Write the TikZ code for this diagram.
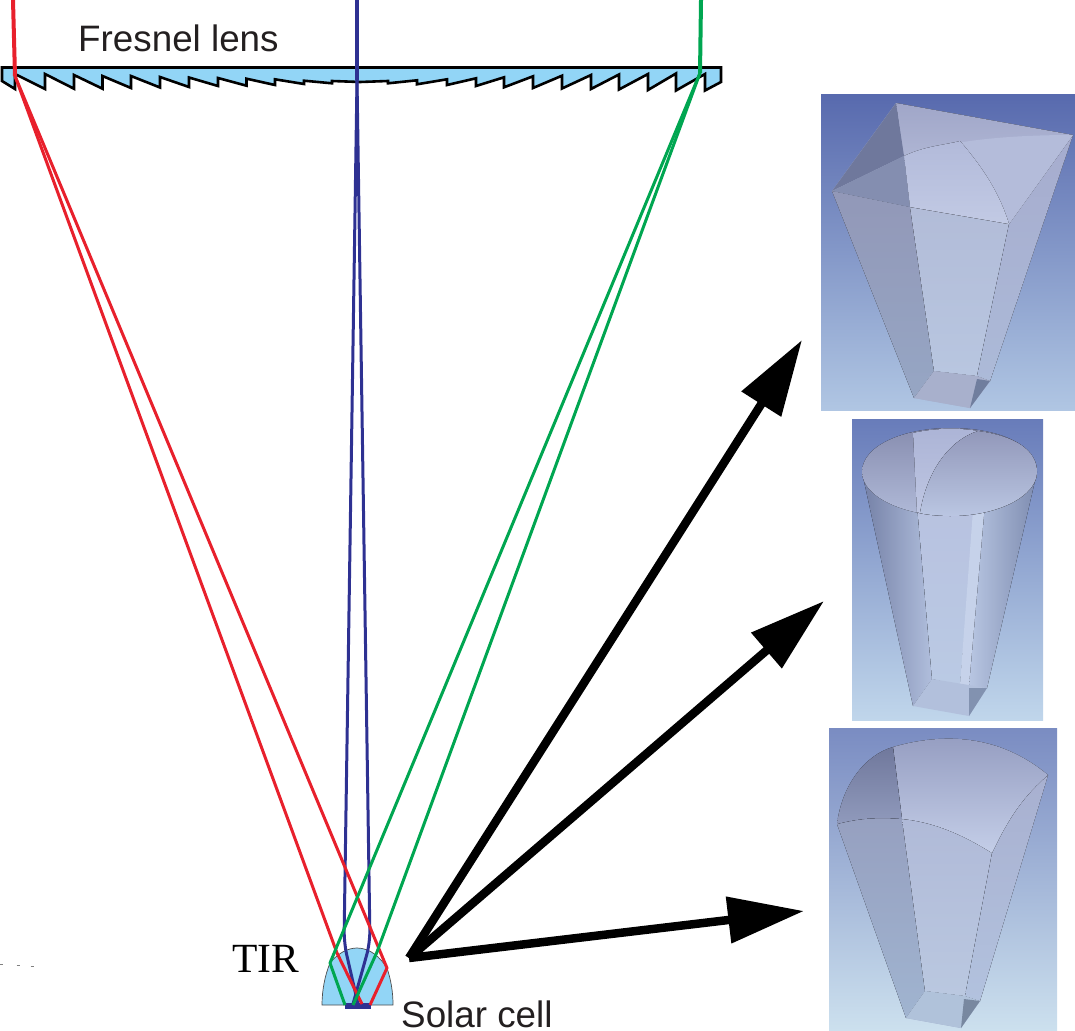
\documentclass[tikz,border=0pt]{standalone}
\usepackage{fontspec}
\setmainfont{Liberation Sans}
\newfontfamily\tirfont{Liberation Serif}
\usetikzlibrary{arrows.meta}
\definecolor{lensblue}{HTML}{92D5F6}
\definecolor{rayred}{HTML}{E8202C}
\definecolor{rayblue}{HTML}{2E3192}
\definecolor{raygreen}{HTML}{00A651}
\definecolor{inktext}{HTML}{231F20}
\tikzset{
  lbl/.style={anchor=base west,inner sep=0pt,text=inktext,font=\fontsize{36.8}{40}\selectfont},
  ray/.style={line width=3pt,line join=round},
  bigarrow/.style={line width=8.5pt,-{Triangle[length=76pt,width=45pt]}},
  panel/.style={anchor=north west,inner sep=0pt,outer sep=0pt},
}
\begin{document}
\begin{tikzpicture}[x=1pt,y=-1pt]
  \useasboundingbox (0,0) rectangle (1075,1030);
  % specks at the left
  \foreach \X/\Y in {1.5/964.5,18/965.5,32/966}
    \draw[gray,line width=.8pt] (\X-1.5,\Y) -- (\X+1.5,\Y);

  % panels
  \node[panel,minimum width=254pt,minimum height=315pt,
        top color={rgb,255:red,88;green,106;blue,174},bottom color={rgb,255:red,176;green,198;blue,227}]
        (panelsquare) at (821,95) {};
  \node[panel,minimum width=191pt,minimum height=301pt,
        top color={rgb,255:red,104;green,124;blue,186},bottom color={rgb,255:red,192;green,214;blue,235}]
        (panelround) at (852,419) {};
  \node[panel,minimum width=228pt,minimum height=302pt,
        top color={rgb,255:red,122;green,140;blue,194},bottom color={rgb,255:red,204;green,224;blue,238}]
        (panelcurved) at (829,728) {};

  % square entrance
  \fill[fill={rgb,255:red,165;green,175;blue,205}] (832,191) -- (896,103) -- (1073,135) -- (990,381) -- (970,408) -- (914,398) -- cycle;
  \fill[top color={rgb,255:red,146;green,152;blue,184},bottom color={rgb,255:red,150;green,166;blue,196}]
    (832,191) -- (910,207) -- (934,371) -- (914,398) -- cycle;
  \fill[top color={rgb,255:red,178;green,188;blue,216},bottom color={rgb,255:red,184;green,198;blue,224}]
    (910,207) -- (1009,224) -- (977,376) -- (934,371) -- cycle;
  \fill[top color={rgb,255:red,166;green,172;blue,206},bottom color={rgb,255:red,172;green,186;blue,216}]
    (1009,224) -- (1073,135) -- (990,381) -- (977,376) -- cycle;
  \fill[top color={rgb,255:red,160;green,166;blue,200},bottom color={rgb,255:red,192;green,200;blue,226}]
    (896,103) -- (1073,135) -- (1009,224) -- (910,207) -- cycle;
  \fill[fill={rgb,255:red,180;green,188;blue,218}]
    (904,156) .. controls (950,140) and (1010,135) .. (1073,135) -- (1009,224) -- (910,207) -- cycle;
  \fill[top color={rgb,255:red,178;green,186;blue,218},bottom color={rgb,255:red,194;green,202;blue,228}]
    (904,156) .. controls (925,146) and (945,145) .. (960,141)
    .. controls (985,170) and (1000,195) .. (1009,224) -- (910,207) -- cycle;
  \fill[fill={rgb,255:red,111;green,120;blue,156}] (832,191) -- (896,103) -- (904,156) -- cycle;
  \fill[fill={rgb,255:red,132;green,142;blue,176}] (832,191) -- (904,156) -- (910,207) -- cycle;
  \fill[fill={rgb,255:red,168;green,176;blue,204}] (914,398) -- (934,371) -- (977,376) -- (990,381) -- (970,408) -- cycle;
  \fill[fill={rgb,255:red,112;green,126;blue,158}] (977,379) -- (990,381) -- (970,408) -- cycle;

  % round entrance
  \fill[left color={rgb,255:red,116;green,128;blue,166},right color={rgb,255:red,176;green,190;blue,220}]
    (862,472) -- (913,706) -- (932,679) -- (917,505) -- cycle;
  \fill[top color={rgb,255:red,184;green,194;blue,224},bottom color={rgb,255:red,186;green,202;blue,228}]
    (917,505) -- (975,510) -- (960,685) -- (932,679) -- cycle;
  \fill[fill={rgb,255:red,198;green,210;blue,234}] (973,510) -- (986,505) -- (970,687) -- (960,685) -- cycle;
  \fill[left color={rgb,255:red,184;green,198;blue,226},right color={rgb,255:red,126;green,140;blue,176}]
    (985,505) -- (1037,472) -- (987,688) -- (969,687) -- cycle;
  \fill[top color={rgb,255:red,136;green,142;blue,176},bottom color={rgb,255:red,176;green,186;blue,216}]
    (862,472) .. controls (862,445) and (905,428) .. (950,428)
    .. controls (1000,428) and (1037,445) .. (1037,472)
    .. controls (1037,495) and (1000,516) .. (950,516)
    .. controls (905,516) and (862,497) .. cycle;
  \fill[top color={rgb,255:red,172;green,180;blue,214},bottom color={rgb,255:red,190;green,198;blue,226}]
    (913,433) .. controls (930,429) and (955,427) .. (978,431)
    .. controls (950,440) and (927,470) .. (920,513) -- (917,512) -- cycle;
  \fill[top color={rgb,255:red,146;green,152;blue,186},bottom color={rgb,255:red,186;green,198;blue,226}]
    (950,516) .. controls (945,516) and (925,515) .. (920,513)
    .. controls (927,470) and (950,440) .. (978,431)
    .. controls (1015,436) and (1037,450) .. (1037,472)
    .. controls (1037,495) and (1000,516) .. cycle;
  \fill[fill={rgb,255:red,178;green,192;blue,220}] (913,706) -- (932,679) -- (987,688) -- (969,716) -- cycle;
  \fill[fill={rgb,255:red,130;green,146;blue,176}] (969,688) -- (987,688) -- (969,716) -- cycle;

  % curved entrance
  \fill[fill={rgb,255:red,160;green,172;blue,204}] (837,824) .. controls (842,785) and (865,755) .. (893,747)
    .. controls (945,732) and (1000,735) .. (1048,775) -- (980,1001) -- (961,1028) -- (906,1018) -- cycle;
  \fill[top color={rgb,255:red,150;green,160;blue,192},bottom color={rgb,255:red,160;green,180;blue,208}]
    (837,824) .. controls (860,818) and (880,817) .. (902,819) -- (925,991) -- (906,1018) -- cycle;
  \fill[top color={rgb,255:red,176;green,186;blue,216},bottom color={rgb,255:red,186;green,200;blue,224}]
    (902,819) .. controls (935,822) and (965,836) .. (992,853) -- (965,996) -- (925,991) -- cycle;
  \fill[top color={rgb,255:red,168;green,176;blue,208},bottom color={rgb,255:red,178;green,194;blue,222}]
    (992,853) .. controls (1010,815) and (1025,795) .. (1048,775) -- (980,1001) -- (965,996) -- cycle;
  \fill[top color={rgb,255:red,148;green,156;blue,192},bottom color={rgb,255:red,196;green,206;blue,232}]
    (893,747) .. controls (945,732) and (1000,735) .. (1048,775)
    .. controls (1025,795) and (1010,815) .. (992,853)
    .. controls (965,836) and (935,822) .. (902,819) -- cycle;
  \fill[top color={rgb,255:red,112;green,120;blue,156},bottom color={rgb,255:red,144;green,154;blue,188}]
    (837,824) .. controls (842,785) and (865,755) .. (893,747) -- (902,819)
    .. controls (880,817) and (860,818) .. cycle;
  \fill[fill={rgb,255:red,176;green,194;blue,218}] (906,1018) -- (925,991) -- (965,996) -- (980,1001) -- (961,1028) -- cycle;
  \fill[fill={rgb,255:red,120;green,136;blue,160}] (964,999) -- (980,1001) -- (961,1028) -- cycle;

  % TIR dome and solar cell
  \draw[fill=lensblue,draw=black!70,line width=.7pt] (322,1005) .. controls (322,990) and (325,975) .. (330,963)
    .. controls (338,953) and (348,948) .. (357,948)
    .. controls (370,948) and (380,957) .. (387,968)
    .. controls (391,980) and (393,992) .. (393,1005) -- cycle;
  \fill[rayblue] (345,1003) rectangle (371,1008.5);

  % Fresnel lens
  \draw[fill=lensblue,line width=2.6pt,line join=miter]
    (2,67.5) -- (721,67.5) -- (721,82) -- (705,90.5) -- (705,74)
    \foreach \X/\A/\B in {676/73.5/90.5,648/74/90,619/74.5/89.5,591/75/89,562/75.7/88.5,533/76.3/88,
                          504/77.3/87.3,476/78.3/86,447/79.3/85,417/80.3/84.3,388/81/83.3}
      { -- (\X,\B) -- (\X,\A) }
    -- (360,82)
    \foreach \X/\A/\B in {332/81/83.3,304/80.7/84,275/79.3/85,246.5/78.7/85.7,218/78/86,
                          189/77.5/87,160/77/87.5,131/76/88,102.5/76/88.7,74/75/88.7,45/74/89}
      { -- (\X,\A) -- (\X,\B) }
    -- (15,74) -- (15,89) -- (2,81) -- cycle;

  % rays
  \coordinate (redin) at (13,0);
  \coordinate (redlens) at (15,76);
  \coordinate (bluein) at (357,0);
  \coordinate (bluelens) at (357,80);
  \coordinate (greenin) at (701,0);
  \coordinate (greenlens) at (700,73);
  \draw[rayred,line width=4pt] (redin) -- (redlens);
  \draw[rayblue,line width=4pt] (bluein) -- (bluelens);
  \draw[raygreen,line width=4pt] (greenin) -- (greenlens);
  \draw[rayblue,ray,rounded corners=12pt] (bluelens) -- (344,943) -- (358,1004);
  \draw[rayblue,ray,rounded corners=12pt] (bluelens) -- (370,943) -- (353,1004);
  \draw[rayred,ray] (redlens) -- (337,953) -- (362,1004);
  \draw[rayred,ray] (redlens) -- (387,968) -- (370,1005);
  \draw[raygreen,ray] (greenlens) -- (330,963) -- (345,1005);
  \draw[raygreen,ray] (greenlens) -- (377,952) -- (353,1005);

  % arrows
  \coordinate (fan) at (409,958);
  \coordinate (tipsquare) at (802,340);
  \coordinate (tipround) at (824,601);
  \coordinate (tipcurved) at (804,911);
  \foreach \T in {tipsquare,tipround,tipcurved}
    \draw[bigarrow] (fan) -- (\T);

  % labels
  \node[lbl] (fresnel) at (78,52) {Fresnel lens};
  \node[lbl] (cell) at (401,1027) {Solar cell};
  \node[lbl,font=\tirfont\fontsize{41.5}{44}\selectfont,text=black] (tir) at (232,972) {TIR};
\end{tikzpicture}
\end{document}
